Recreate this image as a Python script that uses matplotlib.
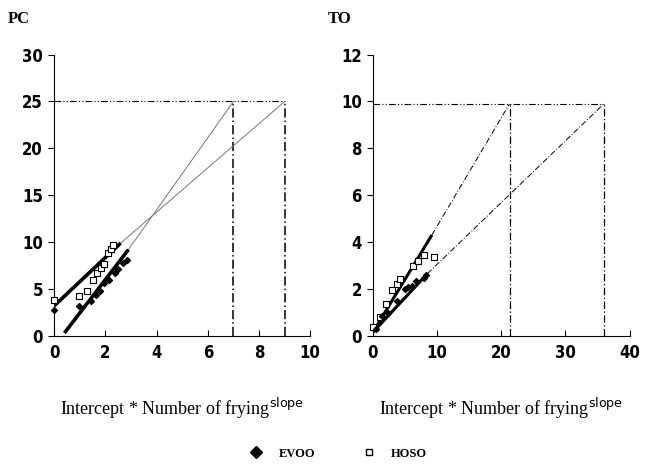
import matplotlib
matplotlib.use("Agg")
import matplotlib.pyplot as plt
from matplotlib.lines import Line2D
from matplotlib.font_manager import FontProperties, fontManager

# PC panel: measured points
pc_hoso_x = [0, 0.97, 1.3, 1.5, 1.66, 1.83, 1.96, 2.1, 2.22, 2.29]
pc_hoso_y = [3.8, 4.25, 4.8, 6.0, 6.7, 7.2, 7.7, 8.8, 9.3, 9.7]
pc_evoo_x = [0, 0.97, 1.43, 1.63, 1.77, 1.96, 2.16, 2.36, 2.5, 2.7, 2.83]
pc_evoo_y = [2.8, 3.2, 3.75, 4.4, 4.75, 5.6, 6.0, 6.7, 7.1, 7.75, 8.1]
# PC fitted lines (solid part) and extrapolation end points
pc_hoso_fit_x = [0, 2.6]
pc_hoso_fit_y = [3.2, 9.9]
pc_evoo_fit_x = [0.4, 2.9]
pc_evoo_fit_y = [0.3, 9.2]
pc_limit = 25
pc_hoso_end = 9
pc_evoo_end = 7

# TO panel
to_hoso_x = [0, 1.14, 2.1, 3.0, 3.7, 4.3, 6.2, 7.0, 7.9, 9.5]
to_hoso_y = [0.39, 0.8, 1.37, 1.96, 2.2, 2.43, 2.98, 3.2, 3.45, 3.35]
to_evoo_x = [0.5, 1.38, 2.36, 3.84, 5.07, 5.56, 6.06, 6.7, 8.0, 8.27]
to_evoo_y = [0.3, 0.83, 0.97, 1.48, 2.0, 2.07, 2.14, 2.36, 2.46, 2.6]
to_hoso_fit_x = [0, 9.2]
to_hoso_fit_y = [0.15, 4.3]
to_evoo_fit_x = [0, 8.5]
to_evoo_fit_y = [0.15, 2.65]
to_limit = 9.9
to_hoso_end = 21.3
to_evoo_end = 36

# condensed bold digits if a condensed face is around, else plain bold
condensed = [f.name for f in fontManager.ttflist if "ondensed" in f.fname and "Bold" in f.fname]
if condensed:
    tick_fp = FontProperties(family=condensed[0], stretch="condensed", weight="bold", size=12)
else:
    tick_fp = FontProperties(family="Liberation Serif", weight="bold", size=12)

xlabel_text = "Intercept * Number of frying$^{\\mathsf{slope}}$"

fig = plt.figure(figsize=(6.45, 4.75), dpi=100)
ax1 = fig.add_axes([0.084, 0.293, 0.397, 0.592])
ax2 = fig.add_axes([0.578, 0.293, 0.398, 0.592])


def style(ax, xlim, ylim, xticks, yticks):
    ax.set_xlim(*xlim)
    ax.set_ylim(*ylim)
    ax.set_xticks(xticks)
    ax.set_yticks(yticks)
    for s in ["top", "right"]:
        ax.spines[s].set_visible(False)
    ax.spines["left"].set_linewidth(0.8)
    ax.spines["bottom"].set_linewidth(0.8)
    ax.tick_params(axis="y", direction="out", length=4, width=0.8, pad=4)
    ax.tick_params(axis="x", direction="in", length=4, width=0.8, pad=6)
    for lab in ax.get_xticklabels() + ax.get_yticklabels():
        lab.set_fontproperties(tick_fp)
    ax.set_xlabel(xlabel_text, family="Liberation Serif", fontsize=13, labelpad=24)


# ---- PC ----
ax1.plot([0, pc_hoso_end], [pc_limit, pc_limit], color="black", lw=0.8, ls=(0, (6, 2, 1, 2, 1, 2)))
ax1.plot([pc_evoo_end, pc_evoo_end], [0, pc_limit], color="black", lw=1.1, ls=(0, (6, 2, 1, 2)))
ax1.plot([pc_hoso_end, pc_hoso_end], [0, pc_limit], color="black", lw=1.1, ls=(0, (6, 2, 1, 2)))
ax1.plot([pc_hoso_fit_x[1], pc_hoso_end], [pc_hoso_fit_y[1], pc_limit], color="#777777", lw=0.7)
ax1.plot([pc_evoo_fit_x[1], pc_evoo_end], [pc_evoo_fit_y[1], pc_limit], color="#777777", lw=0.7)
ax1.plot(pc_hoso_fit_x, pc_hoso_fit_y, color="black", lw=2.6, solid_capstyle="butt")
ax1.plot(pc_evoo_fit_x, pc_evoo_fit_y, color="black", lw=2.6, solid_capstyle="butt")
ax1.scatter(pc_hoso_x, pc_hoso_y, marker="s", s=14, facecolors="white", edgecolors="black", linewidths=0.8, zorder=3, clip_on=False)
ax1.scatter(pc_evoo_x, pc_evoo_y, marker="D", s=9, color="black", zorder=3, clip_on=False)
style(ax1, (0, 10), (0, 30), [0, 2, 4, 6, 8, 10], [0, 5, 10, 15, 20, 25, 30])
fig.text(0.012, 0.952, "PC", family="Liberation Serif", weight="bold", fontsize=12)

# ---- TO ----
ax2.plot([0, to_evoo_end], [to_limit, to_limit], color="black", lw=0.8, ls=(0, (6, 2, 1, 2, 1, 2)))
ax2.plot([to_hoso_end, to_hoso_end], [0, to_limit], color="black", lw=0.9, ls=(0, (6, 2, 1, 2)))
ax2.plot([to_evoo_end, to_evoo_end], [0, to_limit], color="black", lw=0.9, ls=(0, (6, 2, 1, 2)))
ax2.plot([to_hoso_fit_x[1], to_hoso_end], [to_hoso_fit_y[1], to_limit], color="black", lw=0.7, ls=(0, (6, 2, 1, 2)))
ax2.plot([to_evoo_fit_x[1], to_evoo_end], [to_evoo_fit_y[1], to_limit], color="black", lw=0.7, ls=(0, (6, 2, 1, 2)))
ax2.plot(to_hoso_fit_x, to_hoso_fit_y, color="black", lw=2.2, solid_capstyle="butt")
ax2.plot(to_evoo_fit_x, to_evoo_fit_y, color="black", lw=2.2, solid_capstyle="butt")
ax2.scatter(to_hoso_x, to_hoso_y, marker="s", s=14, facecolors="white", edgecolors="black", linewidths=0.8, zorder=3, clip_on=False)
ax2.scatter(to_evoo_x, to_evoo_y, marker="D", s=9, color="black", zorder=3, clip_on=False)
style(ax2, (0, 40), (0, 12), [0, 10, 20, 30, 40], [0, 2, 4, 6, 8, 10, 12])
fig.text(0.508, 0.952, "TO", family="Liberation Serif", weight="bold", fontsize=12)

handles = [
    Line2D([], [], marker="D", color="black", ls="none", markersize=6),
    Line2D([], [], marker="s", markerfacecolor="white", markeredgecolor="black", ls="none", markersize=5),
]
fig.legend(handles, ["EVOO", "HOSO"], loc="center", bbox_to_anchor=(0.52, 0.045), ncol=2,
           frameon=False, prop=dict(family="Liberation Serif", weight="bold", size=9),
           columnspacing=3.3, handletextpad=0.8)

fig.savefig("out.png", dpi=100)
